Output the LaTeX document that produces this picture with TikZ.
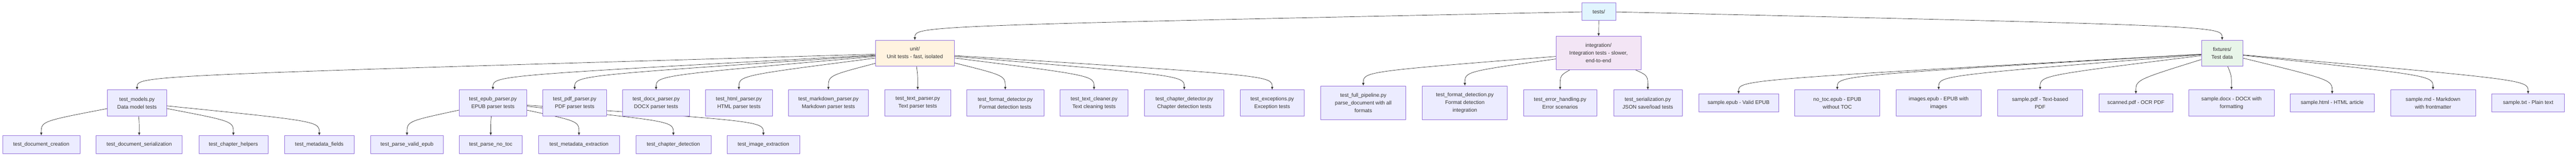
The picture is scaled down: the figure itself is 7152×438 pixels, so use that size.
\documentclass[tikz,border=0pt]{standalone}
\usepackage{fontspec}
\setmainfont{Liberation Sans}
\usetikzlibrary{arrows.meta,backgrounds}
\definecolor{boxfill}{HTML}{ECECFF}
\definecolor{boxline}{HTML}{9370DB}
\definecolor{inktext}{HTML}{333333}
\definecolor{rootfill}{HTML}{E1F5FE}
\definecolor{unitfill}{HTML}{FFF3E0}
\definecolor{integfill}{HTML}{F3E5F5}
\definecolor{fixfill}{HTML}{E8F5E9}

\begin{document}
\begin{tikzpicture}
[every node/.style={inner sep=0pt, draw=boxline, line width=1pt, fill=boxfill, text=inktext, align=center, font=\fontsize{14.6pt}{21.5pt}\selectfont},
 conn/.style={line width=1pt, -{Latex[length=8pt, width=7pt]}, color=inktext}]
\useasboundingbox (0pt, 0pt) rectangle (7152pt, -438pt);
% top and folders
\node (tests) [minimum width=94pt, minimum height=50pt, fill=rootfill] at (4439pt, -32pt) {tests/};
\node (unit) [minimum width=218pt, minimum height=71pt, fill=unitfill] at (2540pt, -147.5pt) {unit/\\Unit tests - fast, isolated};
\node (integration) [minimum width=236pt, minimum height=93pt, fill=integfill] at (4438pt, -147.5pt) {integration/\\Integration tests - slower,\\end-to-end};
\node (fixtures) [minimum width=115pt, minimum height=71pt, fill=fixfill] at (6169.5pt, -147.5pt) {fixtures/\\Test data};
% unit files
\node (models) [minimum width=165pt, minimum height=72pt] at (380.5pt, -286pt) {test\_models.py\\Data model tests};
\node (epub) [minimum width=187pt, minimum height=72pt] at (1368.5pt, -286pt) {test\_epub\_parser.py\\EPUB parser tests};
\node (pdf) [minimum width=177pt, minimum height=72pt] at (1595.5pt, -286pt) {test\_pdf\_parser.py\\PDF parser tests};
\node (docx) [minimum width=185pt, minimum height=72pt] at (1821.5pt, -286pt) {test\_docx\_parser.py\\DOCX parser tests};
\node (html) [minimum width=185pt, minimum height=72pt] at (2051.5pt, -286pt) {test\_html\_parser.py\\HTML parser tests};
\node (markdown) [minimum width=222pt, minimum height=72pt] at (2300pt, -286pt) {test\_markdown\_parser.py\\Markdown parser tests};
\node (textparser) [minimum width=182pt, minimum height=72pt] at (2548pt, -286pt) {test\_text\_parser.py\\Text parser tests};
\node (formatdetector) [minimum width=214pt, minimum height=72pt] at (2791pt, -286pt) {test\_format\_detector.py\\Format detection tests};
\node (textcleaner) [minimum width=189pt, minimum height=72pt] at (3037.5pt, -286pt) {test\_text\_cleaner.py\\Text cleaning tests};
\node (chapterdetector) [minimum width=220pt, minimum height=72pt] at (3288pt, -286pt) {test\_chapter\_detector.py\\Chapter detection tests};
\node (exceptions) [minimum width=178pt, minimum height=72pt] at (3532pt, -286pt) {test\_exceptions.py\\Exception tests};
% integration files
\node (pipeline) [minimum width=236pt, minimum height=93pt] at (3785pt, -285.5pt) {test\_full\_pipeline.py\\parse\_document with all\\formats};
\node (formatdetection) [minimum width=236pt, minimum height=93pt] at (4067pt, -285.5pt) {test\_format\_detection.py\\Format detection\\integration};
\node (errorhandling) [minimum width=203pt, minimum height=72pt] at (4331.5pt, -286pt) {test\_error\_handling.py\\Error scenarios};
\node (serialization) [minimum width=190pt, minimum height=72pt] at (4575pt, -286pt) {test\_serialization.py\\JSON save/load tests};
% fixture files
\node (sampleepub) [minimum width=222pt, minimum height=50pt] at (4827pt, -286.5pt) {sample.epub - Valid EPUB};
\node (notoc) [minimum width=236pt, minimum height=72pt] at (5101pt, -286pt) {no\_toc.epub - EPUB\\without TOC};
\node (images) [minimum width=237pt, minimum height=72pt] at (5382.5pt, -286pt) {images.epub - EPUB with\\images};
\node (samplepdf) [minimum width=236pt, minimum height=72pt] at (5664pt, -286pt) {sample.pdf - Text-based\\PDF};
\node (scanned) [minimum width=204pt, minimum height=50pt] at (5930pt, -286.5pt) {scanned.pdf - OCR PDF};
\node (sampledocx) [minimum width=237pt, minimum height=72pt] at (6195.5pt, -286pt) {sample.docx - DOCX with\\formatting};
\node (samplehtml) [minimum width=232pt, minimum height=50pt] at (6475pt, -286.5pt) {sample.html - HTML article};
\node (samplemd) [minimum width=236pt, minimum height=72pt] at (6755pt, -286pt) {sample.md - Markdown\\with frontmatter};
\node (sampletxt) [minimum width=202pt, minimum height=50pt] at (7019pt, -286.5pt) {sample.txt - Plain text};
% single tests
\node (doccreation) [minimum width=215pt, minimum height=50pt] at (114.5pt, -402pt) {test\_document\_creation};
\node (docserial) [minimum width=239pt, minimum height=50pt] at (386.5pt, -402pt) {test\_document\_serialization};
\node (chaphelpers) [minimum width=192pt, minimum height=50pt] at (648pt, -402pt) {test\_chapter\_helpers};
\node (metafields) [minimum width=193pt, minimum height=50pt] at (886.5pt, -402pt) {test\_metadata\_fields};
\node (validepub) [minimum width=202pt, minimum height=50pt] at (1130pt, -402pt) {test\_parse\_valid\_epub};
\node (parsenotoc) [minimum width=175pt, minimum height=50pt] at (1362.5pt, -402pt) {test\_parse\_no\_toc};
\node (metaextract) [minimum width=225pt, minimum height=50pt] at (1607.5pt, -402pt) {test\_metadata\_extraction};
\node (chapdetection) [minimum width=209pt, minimum height=50pt] at (1869.5pt, -402pt) {test\_chapter\_detection};
\node (imageextract) [minimum width=201pt, minimum height=50pt] at (2119.5pt, -402pt) {test\_image\_extraction};
\begin{scope}[on background layer]
\draw [conn] (tests) .. controls (2540pt, -72pt) .. (unit);
\draw [conn] (tests) -- (integration);
\draw [conn] (tests) .. controls (6169.5pt, -72pt) .. (fixtures);
\draw [conn] (unit) .. controls (380.5pt, -210pt) .. (models);
\draw [conn] (unit) .. controls (1368.5pt, -210pt) .. (epub);
\draw [conn] (unit) .. controls (1595.5pt, -210pt) .. (pdf);
\draw [conn] (unit) .. controls (1821.5pt, -210pt) .. (docx);
\draw [conn] (unit) .. controls (2051.5pt, -210pt) .. (html);
\draw [conn] (unit) .. controls (2300pt, -210pt) .. (markdown);
\draw [conn] (unit) .. controls (2548pt, -210pt) .. (textparser);
\draw [conn] (unit) .. controls (2791pt, -210pt) .. (formatdetector);
\draw [conn] (unit) .. controls (3037.5pt, -210pt) .. (textcleaner);
\draw [conn] (unit) .. controls (3288pt, -210pt) .. (chapterdetector);
\draw [conn] (unit) .. controls (3532pt, -210pt) .. (exceptions);
\draw [conn] (integration) .. controls (3785pt, -199pt) .. (pipeline);
\draw [conn] (integration) .. controls (4067pt, -199pt) .. (formatdetection);
\draw [conn] (integration) .. controls (4331.5pt, -210pt) .. (errorhandling);
\draw [conn] (integration) .. controls (4575pt, -210pt) .. (serialization);
\draw [conn] (fixtures) .. controls (4827pt, -222pt) .. (sampleepub);
\draw [conn] (fixtures) .. controls (5101pt, -210pt) .. (notoc);
\draw [conn] (fixtures) .. controls (5382.5pt, -210pt) .. (images);
\draw [conn] (fixtures) .. controls (5664pt, -210pt) .. (samplepdf);
\draw [conn] (fixtures) .. controls (5930pt, -222pt) .. (scanned);
\draw [conn] (fixtures) .. controls (6195.5pt, -210pt) .. (sampledocx);
\draw [conn] (fixtures) .. controls (6475pt, -222pt) .. (samplehtml);
\draw [conn] (fixtures) .. controls (6755pt, -210pt) .. (samplemd);
\draw [conn] (fixtures) .. controls (7019pt, -222pt) .. (sampletxt);
\draw [conn] (models) .. controls (114.5pt, -337pt) .. (doccreation);
\draw [conn] (models) .. controls (386.5pt, -337pt) .. (docserial);
\draw [conn] (models) .. controls (648pt, -337pt) .. (chaphelpers);
\draw [conn] (models) .. controls (886.5pt, -337pt) .. (metafields);
\draw [conn] (epub) .. controls (1130pt, -337pt) .. (validepub);
\draw [conn] (epub) .. controls (1362.5pt, -337pt) .. (parsenotoc);
\draw [conn] (epub) .. controls (1607.5pt, -337pt) .. (metaextract);
\draw [conn] (epub) .. controls (1869.5pt, -337pt) .. (chapdetection);
\draw [conn] (epub) .. controls (2119.5pt, -337pt) .. (imageextract);
\end{scope}
\end{tikzpicture}
\end{document}
